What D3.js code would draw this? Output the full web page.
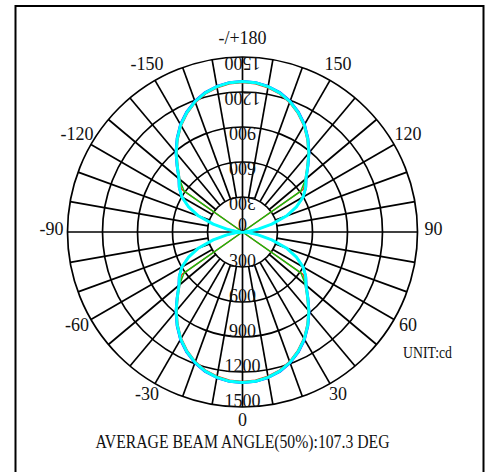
<!DOCTYPE html>
<html>
<head>
<meta charset="utf-8">
<script src="https://cdn.jsdelivr.net/npm/d3@7"></script>
<style>
  html, body { margin: 0; padding: 0; background: #fff; }
  svg { display: block; }
  text { font-family: "Liberation Serif", "Times New Roman", serif; fill: #111; }
</style>
</head>
<body>
<svg id="chart" width="489" height="472"></svg>
<script>
// ---- data ----
const gammaAngles = [0,5,10,15,20,25,30,35,40,45,50,55,60,65,70,75,80,85,90,95,100,105,110,115,120,125,130,135,140,145,150,155,160,165,170,175,180];
const redValues   = [1280,1275,1255,1225,1180,1120,1050,965,875,780,700,640,0,0,0,0,0,0,0,0,0,0,0,0,0,640,700,780,875,965,1050,1120,1180,1225,1255,1275,1280];
const greenValues = [1285,1280,1260,1230,1185,1125,1055,970,880,785,705,610,0,0,0,0,0,0,0,0,0,0,0,0,0,610,705,785,880,970,1055,1125,1185,1230,1260,1280,1285];
const blueValues  = [1295,1290,1272,1243,1198,1140,1070,985,895,800,718,668,605,512,400,258,128,38,0,38,128,258,400,512,605,668,718,800,895,985,1070,1140,1198,1243,1272,1290,1295];
const cyanValues  = [1290,1285,1265,1235,1190,1130,1060,975,885,790,710,660,600,510,400,260,130,40,0,40,130,260,400,510,600,660,710,790,885,975,1060,1130,1190,1235,1265,1285,1290];
const ringValues = [300,600,900,1200,1500];
const angleTicks = [0,30,60,90,120,150,180,210,240,270,300,330];
const angleTickLabels = ["0","30","60","90","120","150","-/+180","-150","-120","-90","-60","-30"];
const beamTitle = "AVERAGE BEAM ANGLE(50%):107.3 DEG";
const unitLabel = "UNIT:cd";

// ---- layout ----
const svg = d3.select("#chart");
const cx = 242.5, cy = 232, R = 175;

svg.append("rect").attr("x", 15.5).attr("y", 6).attr("width", 468).attr("height", 500)
  .attr("fill", "#fff").attr("stroke", "#000").attr("stroke-width", 2);

const g = svg.append("g").attr("transform", `translate(${cx},${cy})`);

const rScale = d3.scaleLinear().domain([0, 1500]).range([0, R]);
// gamma measured from bottom (0) going right/up; lineRadial angle is clockwise from top
const aScale = d3.scaleLinear().domain([0, 360]).range([Math.PI, Math.PI - 2 * Math.PI]);

// grid circles
g.selectAll("circle.ring").data(ringValues).join("circle")
  .attr("class", "ring").attr("r", d => rScale(d))
  .attr("fill", "none").attr("stroke", "#000").attr("stroke-width", 1.7);

// radial lines every 10 deg
const spokes = d3.range(0, 360, 10);
g.selectAll("line.spoke").data(spokes).join("line")
  .attr("class", "spoke")
  .attr("x1", d => (d % 90 === 0 ? 0 : rScale(300)) * Math.sin(aScale(d)))
  .attr("y1", d => -(d % 90 === 0 ? 0 : rScale(300)) * Math.cos(aScale(d)))
  .attr("x2", d => rScale(1500) * Math.sin(aScale(d)))
  .attr("y2", d => -rScale(1500) * Math.cos(aScale(d)))
  .attr("stroke", "#000").attr("stroke-width", 1.7);

// curves
const series = [
  { values: redValues, color: "#ff2000", width: 1.4 },
  { values: greenValues, color: "#10c010", width: 1.4 },
  { values: blueValues, color: "#1010ff", width: 1.6 },
  { values: cyanValues, color: "#00ffff", width: 3 }
];
const radial = d3.lineRadial()
  .angle(d => aScale(d[0]))
  .radius(d => rScale(d[1]))
  .curve(d3.curveLinearClosed);

series.forEach(s => {
  const right = gammaAngles.map((a, i) => [a, s.values[i]]);
  const left = gammaAngles.map((a, i) => [360 - a, s.values[i]]).reverse().slice(1, -1);
  g.append("path").datum(right.concat(left))
    .attr("d", radial)
    .attr("fill", "none").attr("stroke", s.color).attr("stroke-width", s.width)
    .attr("stroke-linejoin", "round");
});

// ring labels (bottom upright, top rotated 180)
const ringLabelG = g.append("g");
ringLabelG.selectAll("text").data(ringValues).join("text")
  .attr("x", 0).attr("y", d => rScale(d))
  .attr("text-anchor", "middle").attr("font-size", 18)
  .text(d => d);
const ringLabelTop = g.append("g").attr("transform", "rotate(180)");
ringLabelTop.selectAll("text").data(ringValues).join("text")
  .attr("x", 0).attr("y", d => rScale(d))
  .attr("text-anchor", "middle").attr("font-size", 18)
  .text(d => d);
g.append("text").attr("x", 0).attr("y", -1).attr("text-anchor", "middle")
  .attr("font-size", 18).text("0");

// angle labels
const labelR = 191;
g.selectAll("text.ang").data(angleTicks).join("text")
  .attr("class", "ang")
  .attr("x", d => labelR * Math.sin(aScale(d)))
  .attr("y", d => -labelR * Math.cos(aScale(d)) - 3)
  .attr("text-anchor", "middle").attr("dominant-baseline", "central")
  .attr("font-size", 18)
  .text((d, i) => angleTickLabels[i]);

// unit + title
svg.append("text").attr("x", 403).attr("y", 358).attr("font-size", 17)
  .attr("textLength", 49).attr("lengthAdjust", "spacingAndGlyphs").text(unitLabel);
svg.append("text").attr("x", cx).attr("y", 448).attr("text-anchor", "middle")
  .attr("font-size", 18).attr("textLength", 294).attr("lengthAdjust", "spacingAndGlyphs")
  .text(beamTitle);
</script>
</body>
</html>
